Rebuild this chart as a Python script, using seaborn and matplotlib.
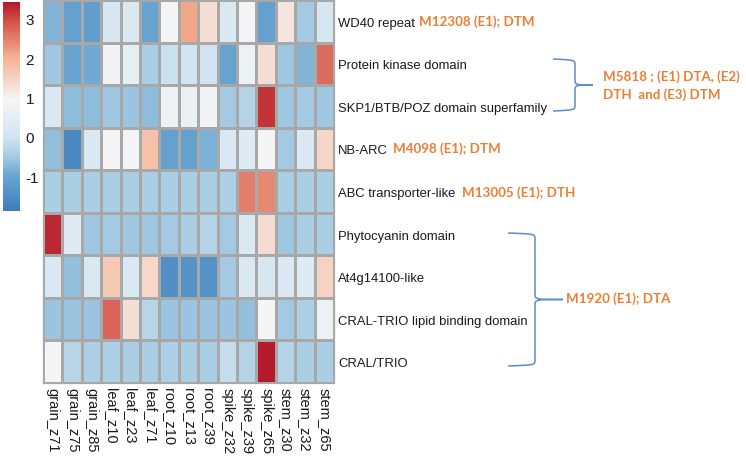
import numpy as np
import pandas as pd
import seaborn as sns
import matplotlib.pyplot as plt
from matplotlib.colors import LinearSegmentedColormap
from matplotlib.path import Path
from matplotlib.patches import PathPatch

# row / column names
domains = ['WD40 repeat', 'Protein kinase domain', 'SKP1/BTB/POZ domain superfamily',
           'NB-ARC', 'ABC transporter-like', 'Phytocyanin domain', 'At4g14100-like',
           'CRAL-TRIO lipid binding domain', 'CRAL/TRIO']
tissues = ['grain_z71', 'grain_z75', 'grain_z85', 'leaf_z10', 'leaf_z23', 'leaf_z71',
           'root_z10', 'root_z13', 'root_z39', 'spike_z32', 'spike_z39', 'spike_z65',
           'stem_z30', 'stem_z32', 'stem_z65']

# scaled expression, one list per domain
wd40 = [-0.8, -1.1, -1.15, 0.1, 0.2, -1.0, 0.9, 2.1, 1.3, 0.2, 0.9, -1.1, 1.2, -0.5, 0.1]
kinase = [-0.55, -1.0, -0.95, 0.8, 0.5, -0.45, -0.1, 0.0, 0.0, -1.05, 0.7, 1.3, -0.55, -0.8, 2.7]
skp1 = [0.2, -0.7, -0.7, -0.55, -0.6, -0.7, 0.7, 0.65, 0.85, -0.5, -0.35, 3.2, -0.55, -0.5, -0.55]
nbarc = [-0.65, -1.6, 0.15, 0.95, 0.9, 1.75, -1.1, -1.1, -0.85, 0.15, 0.35, 0.95, -0.5, 0.2, 1.45]
abc = [-0.45, -0.45, -0.45, -0.45, -0.45, -0.45, -0.45, -0.45, -0.45, -0.4, 2.5, 2.4, -0.45, -0.45, -0.45]
phyto = [3.3, 0.35, -0.55, -0.5, -0.55, -0.55, -0.5, -0.45, -0.35, -0.5, 0.2, 1.35, -0.55, -0.45, -0.45]
at4g = [0.15, -0.65, 0.2, 1.65, 0.2, 1.4, -1.5, -1.4, -1.45, -0.5, 0.2, 0.1, 0.15, 0.35, 1.5]
cral_lipid = [-0.6, -0.6, -0.6, 2.75, 1.3, -0.3, -0.6, -0.6, -0.6, -0.6, -0.65, 0.95, -0.5, -0.4, 0.7]
cral_trio = [0.95, -0.3, -0.4, -0.4, -0.45, -0.45, -0.4, -0.45, -0.45, -0.15, -0.35, 3.4, -0.35, -0.45, -0.45]

df = pd.DataFrame([wd40, kinase, skp1, nbarc, abc, phyto, at4g, cral_lipid, cral_trio],
                  index=domains, columns=tissues)

vmin, vmax = -1.89, 3.43
stops = [(-1.89, '#3d7dbd'), (-1.0, '#6aa5d0'), (-0.5, '#a6cbe3'), (0.0, '#d3e5f1'),
         (0.95, '#f5f5f5'), (2.0, '#f5b393'), (3.0, '#d04c44'), (3.43, '#b2182b')]
cmap = LinearSegmentedColormap.from_list(
    'expr', [((v - vmin) / (vmax - vmin), c) for v, c in stops])

W, H = 746, 460
fig = plt.figure(figsize=(W / 100, H / 100), dpi=100)
ax = fig.add_axes([43 / W, 1 - 384 / H, 291 / W, 383 / H])
cax = fig.add_axes([3 / W, 1 - 212 / H, 17 / W, 209 / H])

sns.heatmap(df, ax=ax, cbar_ax=cax, cmap=cmap, vmin=vmin, vmax=vmax,
            linewidths=0.9, linecolor='#a8a8a8')

font = 'Liberation Sans'
ax.yaxis.tick_right()
ax.set_yticks(np.arange(len(domains)) + 0.5)
ax.set_yticklabels(domains, rotation=0, fontsize=9.4, family=font, color='#1a1a1a')
ax.set_xticks(np.arange(len(tissues)) + 0.5)
ax.set_xticklabels(tissues, rotation=270, fontsize=10.5, family=font, color='#1a1a1a')
ax.tick_params(axis='y', length=0, pad=2.8)
ax.tick_params(axis='x', length=0, pad=3)
ax.set_xlabel('')
ax.set_ylabel('')
for s in ax.spines.values():
    s.set_visible(True)
    s.set_color('#a8a8a8')
    s.set_linewidth(0.9)

cax.set_yticks([-1, 0, 1, 2, 3])
cax.set_yticklabels(['-1', '0', '1', '2', '3'], family=font, fontsize=11, color='#1a1a1a')
cax.tick_params(length=0, pad=4)
ax.collections[0].colorbar.outline.set_visible(False)

# orange annotations (pixel positions of the picture)
orange = '#ED7D31'
notes = [(419, 22, 'M12308 (E1); DTM'),
         (603, 77, 'M5818 ; (E1) DTA, (E2)'),
         (603, 95, 'DTH  and (E3) DTM'),
         (393, 149, 'M4098 (E1); DTM'),
         (462, 193, 'M13005 (E1); DTH'),
         (566, 299, 'M1920 (E1); DTA')]
for x, y, t in notes:
    fig.text(x / W, 1 - y / H, t, color=orange, fontsize=9.6, fontweight='bold',
             family='Lato', va='center', ha='left')


def brace(x0, xm, xt, y0, y1):
    ym = (y0 + y1) / 2
    r = 6
    pts = [(x0, y0), (xm, y0 + 1), (xm, y0 + 1), (xm, y0 + r),
           (xm, ym - r),
           (xm, ym), (xm, ym), (xt, ym),
           (xm, ym), (xm, ym), (xm, ym + r),
           (xm, y1 - r),
           (xm, y1 - 1), (xm, y1 - 1), (x0, y1)]
    codes = [Path.MOVETO] + [Path.CURVE4] * 3 + [Path.LINETO] + [Path.CURVE4] * 6 + \
            [Path.LINETO] + [Path.CURVE4] * 3
    pts = [(px / W, 1 - py / H) for px, py in pts]
    fig.add_artist(PathPatch(Path(pts, codes), fill=False, edgecolor='#5b8ccc',
                             linewidth=1.1, transform=fig.transFigure))


brace(553, 575, 593, 60, 112)
brace(508, 535, 563, 234, 367)

fig.savefig('out.png', dpi=100)
